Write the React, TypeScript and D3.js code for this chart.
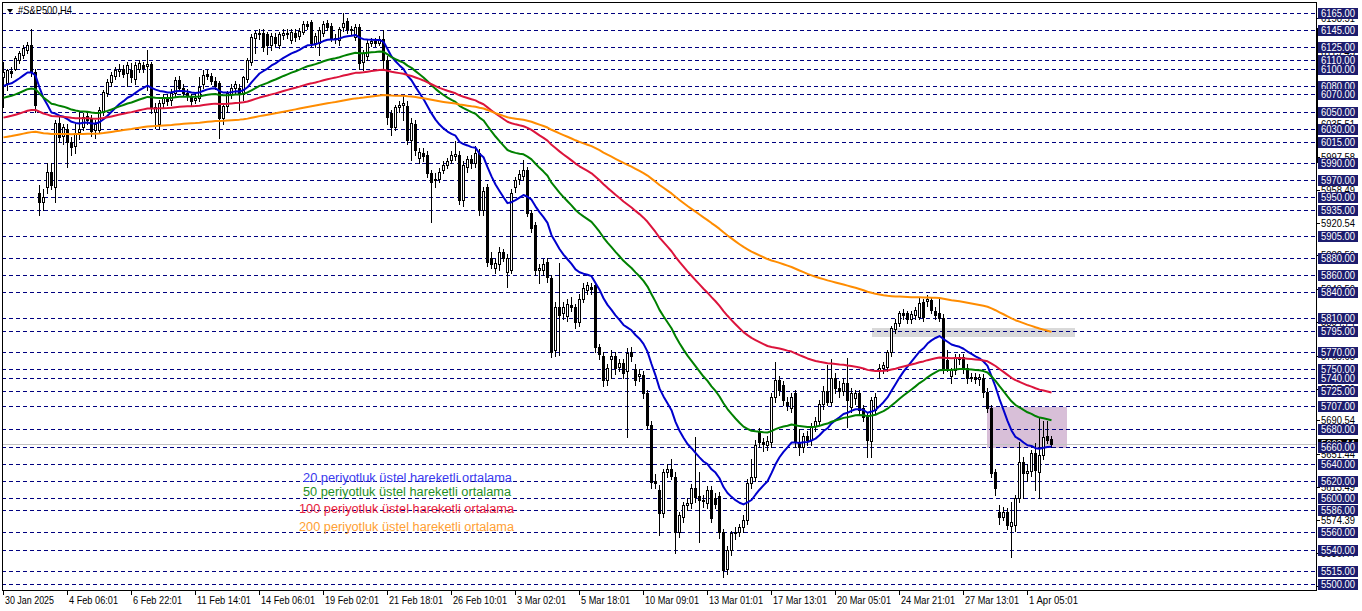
import React, { useRef, useEffect } from 'react';
import * as d3 from 'd3';

const W = 1362;
const H = 611;

// H4 bars: [open, high, low, close]
const candles: [number, number, number, number][] = [
  [6090, 6108, 6055, 6096], [6083, 6100, 6075, 6098], [6097, 6102, 6090, 6095], [6100, 6115, 6098, 6112],
  [6110, 6120, 6106, 6118], [6116, 6127, 6112, 6124], [6122, 6131, 6118, 6128], [6128, 6146, 6092, 6096],
  [6096, 6100, 6050, 6058], [5955, 5965, 5930, 5945], [5945, 5960, 5935, 5950], [5962, 5990, 5955, 5980],
  [5980, 5990, 5960, 5965], [5962, 6040, 5945, 6037], [6037, 6046, 6015, 6021], [6022, 6036, 6012, 6032],
  [6030, 6035, 5985, 6015], [6015, 6020, 6000, 6009], [6010, 6035, 6002, 6025], [6026, 6050, 6018, 6030],
  [6032, 6048, 6028, 6044], [6045, 6050, 6036, 6040], [6042, 6046, 6022, 6027], [6029, 6040, 6019, 6035],
  [6028, 6055, 6025, 6052], [6050, 6075, 6046, 6073], [6072, 6088, 6068, 6085], [6085, 6096, 6080, 6093],
  [6092, 6102, 6088, 6099], [6097, 6105, 6092, 6100], [6100, 6104, 6090, 6094], [6095, 6108, 6080, 6104],
  [6098, 6106, 6085, 6090], [6088, 6108, 6082, 6104], [6100, 6110, 6096, 6107], [6104, 6108, 6096, 6101],
  [6103, 6122, 6075, 6105], [6105, 6108, 6048, 6054], [6050, 6060, 6031, 6055], [6036, 6064, 6030, 6060],
  [6060, 6070, 6055, 6066], [6065, 6070, 6058, 6062], [6063, 6076, 6058, 6072], [6072, 6090, 6068, 6087],
  [6087, 6092, 6075, 6078], [6078, 6082, 6068, 6072], [6072, 6076, 6064, 6068], [6068, 6070, 6058, 6062],
  [6064, 6070, 6060, 6066], [6066, 6090, 6062, 6079], [6082, 6098, 6078, 6093], [6094, 6098, 6088, 6091],
  [6092, 6095, 6082, 6086], [6086, 6090, 6076, 6080], [6083, 6086, 6019, 6042], [6042, 6060, 6035, 6056],
  [6056, 6074, 6050, 6072], [6070, 6082, 6066, 6078], [6078, 6086, 6072, 6082], [6078, 6082, 6052, 6072],
  [6070, 6092, 6064, 6090], [6088, 6112, 6084, 6110], [6108, 6140, 6104, 6137], [6136, 6144, 6118, 6141],
  [6140, 6146, 6134, 6142], [6142, 6146, 6120, 6125], [6140, 6143, 6117, 6127], [6127, 6141, 6122, 6138],
  [6137, 6141, 6126, 6130], [6128, 6143, 6124, 6140], [6139, 6146, 6134, 6142], [6142, 6146, 6136, 6140],
  [6133, 6146, 6130, 6143], [6142, 6146, 6132, 6137], [6138, 6147, 6134, 6144], [6143, 6155, 6140, 6152],
  [6152, 6156, 6146, 6150], [6154, 6157, 6126, 6130], [6130, 6141, 6125, 6138], [6130, 6148, 6116, 6145],
  [6142, 6155, 6138, 6152], [6153, 6157, 6145, 6148], [6150, 6153, 6132, 6136], [6136, 6140, 6130, 6134],
  [6133, 6149, 6128, 6146], [6148, 6165, 6144, 6153], [6156, 6159, 6142, 6146], [6146, 6150, 6140, 6145],
  [6137, 6152, 6133, 6148], [6148, 6152, 6100, 6106], [6108, 6122, 6098, 6118], [6115, 6133, 6110, 6130],
  [6130, 6136, 6126, 6132], [6132, 6136, 6126, 6130], [6130, 6138, 6127, 6134], [6135, 6145, 6100, 6110],
  [6110, 6115, 6035, 6044], [6048, 6052, 6023, 6032], [6032, 6058, 6028, 6055], [6055, 6062, 6050, 6058],
  [6058, 6068, 6040, 6060], [6057, 6062, 6012, 6017], [6017, 6042, 5994, 6037], [6035, 6040, 6000, 6005],
  [5996, 6008, 5990, 6003], [6002, 6008, 5992, 5998], [5999, 6004, 5974, 5978], [5978, 5982, 5921, 5968],
  [5970, 5978, 5962, 5972], [5972, 5984, 5968, 5980], [5982, 5992, 5978, 5988], [5988, 5996, 5984, 5992],
  [5994, 6004, 5990, 5999], [5998, 6016, 5994, 6001], [6000, 6004, 5942, 5947], [5947, 5992, 5940, 5988],
  [5985, 5998, 5980, 5995], [5995, 5999, 5984, 5990], [5990, 6010, 5986, 6002], [6002, 6006, 5930, 5935],
  [5935, 5962, 5930, 5958], [5962, 5966, 5870, 5875], [5880, 5886, 5868, 5873], [5868, 5878, 5862, 5874],
  [5873, 5892, 5866, 5887], [5886, 5890, 5876, 5880], [5863, 5884, 5846, 5879], [5866, 5960, 5862, 5955],
  [5962, 5974, 5956, 5970], [5972, 5982, 5966, 5977], [5975, 5994, 5970, 5982], [5982, 5986, 5928, 5932],
  [5932, 5936, 5910, 5915], [5918, 5922, 5860, 5866], [5865, 5872, 5850, 5868], [5866, 5878, 5860, 5873],
  [5875, 5880, 5852, 5857], [5856, 5860, 5764, 5770], [5772, 5828, 5766, 5822], [5822, 5874, 5767, 5813],
  [5815, 5828, 5808, 5822], [5812, 5832, 5806, 5826], [5825, 5834, 5818, 5822], [5822, 5826, 5798, 5805],
  [5805, 5838, 5800, 5832], [5832, 5850, 5828, 5845], [5842, 5852, 5838, 5848], [5846, 5850, 5838, 5843],
  [5848, 5852, 5770, 5776], [5776, 5780, 5762, 5768], [5765, 5770, 5730, 5737], [5738, 5756, 5732, 5752],
  [5762, 5772, 5740, 5765], [5765, 5770, 5745, 5751], [5753, 5762, 5748, 5757], [5757, 5762, 5740, 5746],
  [5748, 5775, 5671, 5769], [5770, 5776, 5760, 5766], [5750, 5756, 5732, 5738], [5742, 5750, 5736, 5745],
  [5743, 5748, 5716, 5722], [5722, 5726, 5680, 5685], [5685, 5690, 5612, 5619], [5620, 5628, 5612, 5618],
  [5610, 5615, 5557, 5583], [5583, 5634, 5578, 5630], [5630, 5640, 5624, 5634], [5634, 5646, 5622, 5626],
  [5625, 5630, 5536, 5560], [5560, 5584, 5555, 5580], [5578, 5596, 5572, 5592], [5592, 5600, 5586, 5594],
  [5594, 5616, 5588, 5612], [5612, 5671, 5596, 5601], [5603, 5630, 5549, 5598], [5598, 5604, 5590, 5597],
  [5594, 5614, 5588, 5610], [5610, 5614, 5572, 5577], [5600, 5606, 5588, 5593], [5603, 5607, 5554, 5560],
  [5560, 5564, 5508, 5516], [5517, 5544, 5512, 5540], [5540, 5562, 5534, 5559], [5559, 5566, 5552, 5561],
  [5561, 5570, 5556, 5566], [5566, 5580, 5560, 5574], [5574, 5622, 5570, 5618], [5618, 5646, 5612, 5624],
  [5625, 5668, 5620, 5662], [5677, 5682, 5660, 5665], [5665, 5670, 5655, 5663], [5662, 5672, 5656, 5666],
  [5665, 5722, 5660, 5718], [5718, 5759, 5712, 5737], [5737, 5742, 5720, 5726], [5732, 5736, 5708, 5714],
  [5712, 5718, 5702, 5708], [5705, 5722, 5700, 5718], [5722, 5726, 5660, 5665], [5665, 5680, 5650, 5660],
  [5660, 5676, 5654, 5672], [5672, 5678, 5662, 5668], [5668, 5688, 5662, 5684], [5684, 5694, 5678, 5690],
  [5690, 5714, 5686, 5710], [5710, 5730, 5704, 5725], [5725, 5755, 5708, 5712], [5712, 5762, 5708, 5740],
  [5740, 5746, 5722, 5728], [5728, 5736, 5718, 5725], [5725, 5740, 5720, 5734], [5734, 5763, 5683, 5714],
  [5706, 5728, 5700, 5722], [5716, 5726, 5710, 5722], [5722, 5726, 5698, 5703], [5705, 5708, 5690, 5695],
  [5697, 5700, 5648, 5668], [5666, 5718, 5648, 5714], [5703, 5722, 5698, 5718], [5749, 5756, 5740, 5752],
  [5752, 5758, 5746, 5755], [5753, 5772, 5748, 5770], [5770, 5800, 5766, 5798], [5797, 5808, 5792, 5804],
  [5804, 5818, 5800, 5815], [5815, 5820, 5808, 5813], [5815, 5818, 5804, 5809], [5808, 5818, 5804, 5814],
  [5813, 5822, 5808, 5819], [5811, 5834, 5808, 5827], [5828, 5832, 5806, 5811], [5829, 5836, 5824, 5832],
  [5831, 5834, 5815, 5819], [5818, 5822, 5808, 5813], [5815, 5832, 5806, 5810], [5810, 5814, 5746, 5752],
  [5761, 5772, 5748, 5752], [5742, 5752, 5734, 5749], [5749, 5768, 5744, 5764], [5762, 5768, 5756, 5764],
  [5764, 5768, 5746, 5752], [5752, 5756, 5734, 5740], [5740, 5746, 5736, 5741], [5741, 5746, 5734, 5739],
  [5739, 5745, 5732, 5741], [5740, 5744, 5718, 5724], [5724, 5728, 5700, 5705], [5705, 5708, 5624, 5629],
  [5630, 5634, 5604, 5612], [5584, 5592, 5570, 5578], [5578, 5590, 5574, 5584], [5584, 5588, 5564, 5569],
  [5568, 5595, 5532, 5572], [5569, 5604, 5562, 5600], [5600, 5665, 5596, 5642], [5642, 5648, 5600, 5629],
  [5629, 5640, 5620, 5632], [5632, 5656, 5626, 5653], [5652, 5664, 5610, 5633], [5630, 5693, 5600, 5650],
  [5650, 5690, 5646, 5671], [5672, 5690, 5664, 5668], [5669, 5672, 5660, 5663],
];

// one label every 16 bars
const timeLabels = [
  '30 Jan 2025', '4 Feb 06:01', '6 Feb 22:01', '11 Feb 14:01', '14 Feb 06:01', '19 Feb 02:01',
  '21 Feb 18:01', '26 Feb 10:01', '3 Mar 02:01', '5 Mar 18:01', '10 Mar 09:01', '13 Mar 01:01',
  '17 Mar 13:01', '20 Mar 05:01', '24 Mar 21:01', '27 Mar 13:01', '1 Apr 05:01',
];
const labelStep = 16;

// horizontal line objects
const levels = [
  6165, 6145, 6125, 6110, 6100, 6080, 6070, 6050, 6030, 6015, 5990, 5970, 5950, 5935, 5905, 5880,
  5860, 5840, 5810, 5795, 5770, 5750, 5740, 5725, 5707, 5680, 5660, 5640, 5620, 5600, 5586, 5560,
  5540, 5515, 5500,
];

// regular price scale ticks
const axisTicks = [
  6158.51, 6119.45, 6080.55, 6035.51, 5997.58, 5958.49, 5920.54, 5882.59, 5843.5, 5804.74,
  5765.65, 5727.59, 5690.54, 5651.44, 5613.49, 5574.39, 5536.44, 5497.34,
];

const bidPrice = 5663.44;

const emaPeriods = [20, 50, 100, 200];
const emaStart = [6080, 6066, 6043, 6020];
const emaColors = ['#0000cd', '#008000', '#dc143c', '#ff8c00'];

const legendTexts = [
  '20 periyotluk üstel hareketli ortalama',
  '50 periyotluk üstel hareketli ortalama',
  '100 periyotluk üstel hareketli ortalama',
  '200 periyotluk üstel hareketli ortalama',
];
const legendColors = ['#3a3aee', '#1f8f1f', '#e8223c', '#ffa033'];

// rectangles: [bar from, bar to, price top, price bottom]
const zones: [number, number, number, number][] = [
  [217.2, 268, 5798, 5788],
  [246, 266, 5706, 5658],
];
const zoneColors = ['#d9d9d9', '#d8bfd8'];

const FONT = "'Liberation Sans', Arial, sans-serif";

function ema(values: number[], period: number, seed: number) {
  const k = 2 / (period + 1);
  let e = seed;
  return values.map((v, i) => {
    if (i > 0) e = v * k + e * (1 - k);
    return e;
  });
}

export default function App() {
  const svgRef = useRef<SVGSVGElement>(null);

  useEffect(() => {
    if (!svgRef.current) return;
    const svg = d3.select(svgRef.current);
    svg.selectAll('*').remove();

    const left = 2, right = 1316, top = 2, bottom = 590;

    const x = d3.scaleLinear().domain([0, 1]).range([3, 7]);
    const y = d3.scaleLinear().domain([5500, 6145]).range([584, 30]);
    const py = (p: number) => Math.round(y(p));

    svg.append('rect').attr('width', W).attr('height', H).attr('fill', '#fff');

    // background rectangles
    svg.append('g').selectAll('rect').data(zones).join('rect')
      .attr('x', d => Math.round(x(d[0])))
      .attr('width', d => Math.round(x(d[1]) - x(d[0])))
      .attr('y', d => py(d[2]))
      .attr('height', d => py(d[3]) - py(d[2]))
      .attr('fill', (_, i) => zoneColors[i]);

    // dashed levels
    svg.append('g').selectAll('line').data(levels).join('line')
      .attr('x1', left).attr('x2', right)
      .attr('y1', d => py(d) + 0.5).attr('y2', d => py(d) + 0.5)
      .attr('stroke', '#000080').attr('stroke-dasharray', '4,3')
      .attr('shape-rendering', 'crispEdges');

    // bid line
    svg.append('line')
      .attr('x1', left).attr('x2', right)
      .attr('y1', py(bidPrice) + 0.5).attr('y2', py(bidPrice) + 0.5)
      .attr('stroke', '#c0c0c0').attr('shape-rendering', 'crispEdges');

    // candles
    const cg = svg.append('g').attr('shape-rendering', 'crispEdges');
    candles.forEach((c, i) => {
      const [o, h, l, cl] = c;
      const cx = Math.round(x(i));
      cg.append('rect').attr('x', cx).attr('width', 1)
        .attr('y', py(h)).attr('height', Math.max(1, py(l) - py(h) + 1)).attr('fill', '#000');
      const bt = py(Math.max(o, cl));
      const bb = py(Math.min(o, cl));
      const bh = Math.max(1, bb - bt + 1);
      cg.append('rect').attr('x', cx - 1).attr('width', 3)
        .attr('y', bt).attr('height', bh).attr('fill', '#000');
      if (cl > o && bh > 2) {
        cg.append('rect').attr('x', cx).attr('width', 1)
          .attr('y', bt + 1).attr('height', bh - 2).attr('fill', '#fff');
      }
    });

    // EMAs
    const closes = candles.map(c => c[3]);
    const line = d3.line<number>().x((_, i) => x(i) + 0.5).y(d => y(d));
    emaPeriods.forEach((p, k) => {
      const vals = ema(closes, p, emaStart[k]);
      svg.append('path').attr('d', line(vals) || '')
        .attr('fill', 'none').attr('stroke', emaColors[k]).attr('stroke-width', 2)
        .attr('stroke-linejoin', 'round');
    });

    // frame
    svg.append('rect')
      .attr('x', left + 0.5).attr('y', top + 0.5)
      .attr('width', right - left).attr('height', bottom - top)
      .attr('fill', 'none').attr('stroke', '#000').attr('shape-rendering', 'crispEdges');
    svg.append('rect').attr('x', right).attr('y', py(6147)).attr('width', 2)
      .attr('height', py(5990) - py(6147)).attr('fill', '#000');

    // title
    svg.append('path').attr('d', 'M7,9 L13,9 L10,13 Z').attr('fill', '#000');
    svg.append('text').attr('x', 18).attr('y', 14)
      .attr('font-family', FONT).attr('font-size', 11).attr('fill', '#000')
      .attr('textLength', 54).attr('lengthAdjust', 'spacingAndGlyphs')
      .text('#S&P500,H4');

    // legend texts
    const legendX = [303, 303, 299, 299];
    const legendY = [482, 496, 513, 531];
    const legendW = [209, 208, 215, 215];
    legendTexts.forEach((t, i) => {
      svg.append('text').attr('x', legendX[i]).attr('y', legendY[i])
        .attr('font-family', FONT).attr('font-size', 12)
        .attr('textLength', legendW[i]).attr('lengthAdjust', 'spacingAndGlyphs')
        .attr('fill', legendColors[i]).text(t);
    });

    // time axis
    const tg = svg.append('g');
    timeLabels.forEach((t, k) => {
      const tx = Math.round(x(k * labelStep));
      tg.append('line').attr('x1', tx + 0.5).attr('x2', tx + 0.5)
        .attr('y1', bottom).attr('y2', bottom + 5)
        .attr('stroke', '#000').attr('shape-rendering', 'crispEdges');
      tg.append('text').attr('x', tx + 2).attr('y', 604)
        .attr('font-family', FONT).attr('font-size', 11).attr('fill', '#000')
        .attr('textLength', Math.round(t.length * 4.46)).attr('lengthAdjust', 'spacingAndGlyphs')
        .text(t);
    });

    // price axis ticks
    const ag = svg.append('g');
    const priceText = (sel: any) => sel
      .attr('font-family', FONT).attr('font-size', 11)
      .attr('textLength', 34).attr('lengthAdjust', 'spacingAndGlyphs');
    axisTicks.forEach(v => {
      const yy = py(v);
      ag.append('line').attr('x1', right).attr('x2', right + 4)
        .attr('y1', yy + 0.5).attr('y2', yy + 0.5).attr('stroke', '#000')
        .attr('shape-rendering', 'crispEdges');
      ag.append('text').attr('x', 1321).attr('y', yy + 4).attr('fill', '#000')
        .call(priceText).text(v.toFixed(2));
    });

    // current price label
    const by = py(bidPrice);
    ag.append('rect').attr('x', 1318).attr('y', by - 5).attr('width', 40).attr('height', 11).attr('fill', '#000');
    ag.append('text').attr('x', 1321).attr('y', by + 4).attr('fill', '#fff')
      .call(priceText).text(bidPrice.toFixed(2));

    // level labels
    levels.forEach(v => {
      const yy = py(v);
      ag.append('rect').attr('x', 1318).attr('y', yy - 5).attr('width', 40).attr('height', 11)
        .attr('fill', '#1c1c6e');
      ag.append('text').attr('x', 1321).attr('y', yy + 4).attr('fill', '#fff')
        .call(priceText).text(v.toFixed(2));
    });
  }, []);

  return (
    <div style={{ position: 'absolute', left: 0, top: 0, width: W, height: H }}>
      <svg ref={svgRef} width={W} height={H} style={{ display: 'block' }} />
    </div>
  );
}
